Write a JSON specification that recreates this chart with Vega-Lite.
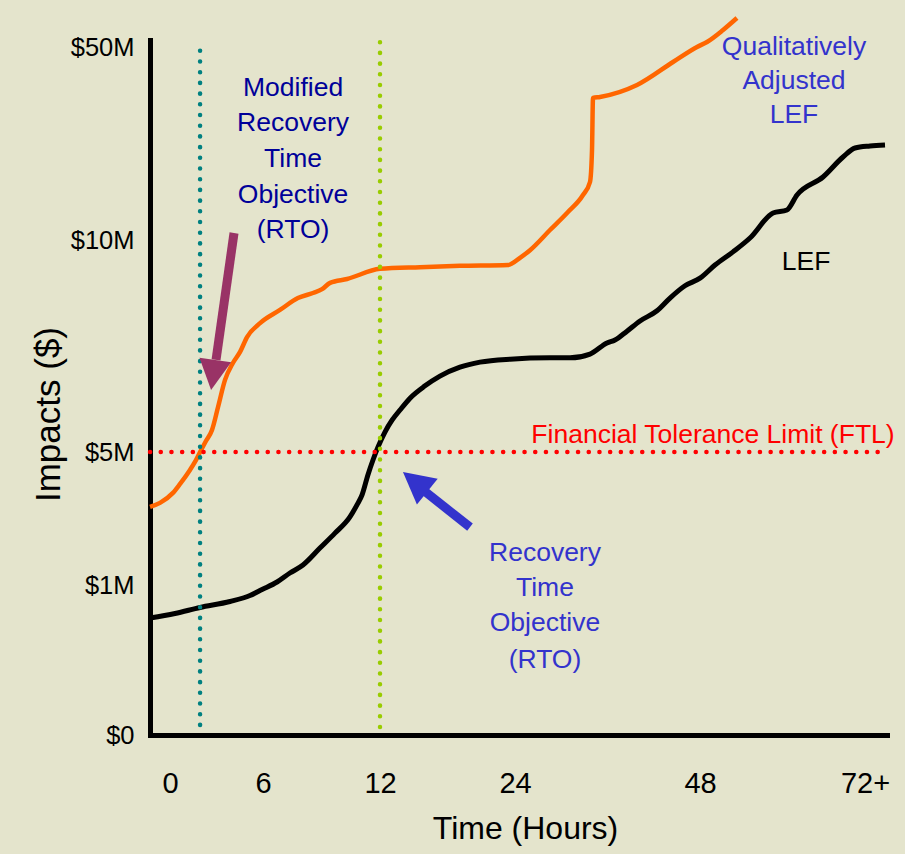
{
  "$schema": "https://vega.github.io/schema/vega-lite/v6.json",
  "width": 737,
  "height": 695,
  "autosize": {"type": "none"},
  "padding": {"left": 150, "top": 40, "right": 18, "bottom": 119},
  "background": "#E4E4CC",
  "config": {"view": {"stroke": null}, "font": "Liberation Sans"},
  "layer": [
    {
      "data": {"values": [
        {"hour": -1.3, "impact": 3.35}, {"hour": -0.65, "impact": 3.47}, {"hour": 0.19, "impact": 3.77},
        {"hour": 0.65, "impact": 4.04}, {"hour": 1.29, "impact": 4.46}, {"hour": 1.61, "impact": 4.70},
        {"hour": 1.94, "impact": 5.0}, {"hour": 2.32, "impact": 5.26}, {"hour": 2.71, "impact": 5.52},
        {"hour": 3.10, "impact": 6.06}, {"hour": 3.55, "impact": 6.70}, {"hour": 4.06, "impact": 7.10},
        {"hour": 4.52, "impact": 7.36}, {"hour": 4.97, "impact": 7.71}, {"hour": 5.81, "impact": 8.04},
        {"hour": 6.87, "impact": 8.35}, {"hour": 7.79, "impact": 8.63}, {"hour": 8.56, "impact": 8.75},
        {"hour": 9.03, "impact": 8.84}, {"hour": 9.44, "impact": 8.99}, {"hour": 10.31, "impact": 9.08},
        {"hour": 12, "impact": 9.32}, {"hour": 15.56, "impact": 9.36}, {"hour": 19.11, "impact": 9.39},
        {"hour": 23.38, "impact": 9.41}, {"hour": 24.65, "impact": 9.58}, {"hour": 25.95, "impact": 9.76},
        {"hour": 28.54, "impact": 12.07}, {"hour": 30.75, "impact": 15.6}, {"hour": 32.82, "impact": 19.33},
        {"hour": 33.73, "impact": 22.02}, {"hour": 33.99, "impact": 28.65}, {"hour": 34.12, "impact": 39.43},
        {"hour": 35.03, "impact": 39.64}, {"hour": 39.83, "impact": 42.12}, {"hour": 44.5, "impact": 46.89},
        {"hour": 47.61, "impact": 50}, {"hour": 49.02, "impact": 51.04}, {"hour": 51.35, "impact": 53.52},
        {"hour": 53.38, "impact": 56.01}
      ]},
      "mark": {"type": "line", "color": "#FF6600", "strokeWidth": 4.5, "interpolate": "monotone", "clip": false},
      "encoding": {
        "x": {
          "field": "hour", "type": "quantitative", "title": "Time (Hours)",
          "scale": {"domain": [-1.3, 0, 6, 12, 24, 48, 72, 75.2], "range": [0, 20, 113, 230, 365, 550, 715, 737], "nice": false, "zero": false},
          "axis": {
            "values": [0, 6, 12, 24, 48, 72],
            "labelExpr": "datum.value == 72 ? '72+' : datum.label",
            "grid": false, "ticks": false, "tickSize": 0,
            "labelPadding": 48, "labelBaseline": "middle", "labelFontSize": 29, "labelColor": "black",
            "labelFlush": false, "labelOverlap": false, "labelFont": "Liberation Sans",
            "domainColor": "black", "domainWidth": 5, "domainCap": "square",
            "titleFontSize": 32, "titleFontWeight": "normal", "titleColor": "black", "titleFont": "Liberation Sans",
            "titleX": 375, "titleY": 93, "titleBaseline": "middle", "titleAlign": "center"
          }
        },
        "y": {
          "field": "impact", "type": "quantitative", "title": "Impacts ($)",
          "scale": {"domain": [0, 1, 5, 10, 50, 51.45], "range": [695, 545, 412, 200, 7, 0], "nice": false, "zero": false},
          "axis": {
            "values": [0, 1, 5, 10, 50],
            "labelExpr": "datum.value == 0 ? '$0' : '$' + datum.value + 'M'",
            "grid": false, "ticks": false, "tickSize": 0,
            "labelPadding": 16, "labelFontSize": 25.5, "labelColor": "black", "labelFont": "Liberation Sans",
            "labelFlush": false, "labelOverlap": false,
            "domainColor": "black", "domainWidth": 5, "domainCap": "square",
            "titleFontSize": 35, "titleFontWeight": "normal", "titleColor": "black", "titleFont": "Liberation Sans",
            "titleX": -102, "titleY": 374, "titleAngle": 270, "titleAlign": "center", "titleBaseline": "middle"
          }
        }
      }
    },
    {
      "data": {"values": [
        {"hour": -1.3, "impact": 0.78}, {"hour": 0.32, "impact": 0.81}, {"hour": 1.94, "impact": 0.85},
        {"hour": 3.87, "impact": 0.89}, {"hour": 5.16, "impact": 0.93}, {"hour": 5.94, "impact": 0.97},
        {"hour": 6.72, "impact": 1.09}, {"hour": 7.38, "impact": 1.36}, {"hour": 8.05, "impact": 1.6},
        {"hour": 8.92, "impact": 2.11}, {"hour": 9.69, "impact": 2.56}, {"hour": 10.46, "impact": 3.05},
        {"hour": 10.82, "impact": 3.41}, {"hour": 11.08, "impact": 3.71}, {"hour": 11.38, "impact": 4.31},
        {"hour": 11.64, "impact": 4.76}, {"hour": 11.9, "impact": 5.12}, {"hour": 12.44, "impact": 5.47},
        {"hour": 13.07, "impact": 5.75}, {"hour": 13.78, "impact": 5.99}, {"hour": 14.67, "impact": 6.27},
        {"hour": 16, "impact": 6.56}, {"hour": 17.33, "impact": 6.79}, {"hour": 19.11, "impact": 7.0},
        {"hour": 20.89, "impact": 7.12}, {"hour": 23.56, "impact": 7.19}, {"hour": 28.54, "impact": 7.22},
        {"hour": 31.14, "impact": 7.22}, {"hour": 33.73, "impact": 7.31}, {"hour": 35.93, "impact": 7.57},
        {"hour": 36.97, "impact": 7.64}, {"hour": 38.53, "impact": 7.85}, {"hour": 40.22, "impact": 8.09},
        {"hour": 42.42, "impact": 8.33}, {"hour": 44.11, "impact": 8.63}, {"hour": 46.05, "impact": 8.92},
        {"hour": 48, "impact": 9.1}, {"hour": 50.18, "impact": 9.41}, {"hour": 52.8, "impact": 9.72},
        {"hour": 55.27, "impact": 10.41}, {"hour": 58.62, "impact": 15.6}, {"hour": 60.65, "impact": 16.22},
        {"hour": 62.11, "impact": 19.33}, {"hour": 65.89, "impact": 23.06}, {"hour": 68.8, "impact": 27.2},
        {"hour": 70.55, "impact": 29.07}, {"hour": 72.73, "impact": 29.48}, {"hour": 74.91, "impact": 29.69}
      ]},
      "mark": {"type": "line", "color": "black", "strokeWidth": 5, "interpolate": "monotone", "clip": false},
      "encoding": {
        "x": {"field": "hour", "type": "quantitative"},
        "y": {"field": "impact", "type": "quantitative"}
      }
    },
    {
      "data": {"values": [{"hour": 1.94, "impact": 0.067, "impact2": 51.04}]},
      "mark": {"type": "rule", "color": "#008080", "strokeWidth": 4.5, "strokeDash": [0.1, 10.6], "strokeCap": "round"},
      "encoding": {
        "x": {"field": "hour", "type": "quantitative"},
        "y": {"field": "impact", "type": "quantitative"},
        "y2": {"field": "impact2"}
      }
    },
    {
      "data": {"values": [{"hour": 12, "impact": 0.053, "impact2": 53.1}]},
      "mark": {"type": "rule", "color": "#99CC00", "strokeWidth": 4.5, "strokeDash": [0.1, 10.6], "strokeCap": "round"},
      "encoding": {
        "x": {"field": "hour", "type": "quantitative"},
        "y": {"field": "impact", "type": "quantitative"},
        "y2": {"field": "impact2"}
      }
    },
    {
      "data": {"values": [{"hour": -1.3, "hour2": 75.2, "impact": 5}]},
      "mark": {"type": "rule", "color": "#FF0000", "strokeWidth": 4.5, "strokeDash": [0.1, 10.6], "strokeCap": "round"},
      "encoding": {
        "x": {"field": "hour", "type": "quantitative"},
        "x2": {"field": "hour2"},
        "y": {"field": "impact", "type": "quantitative"}
      }
    },
    {
      "data": {"values": [{"hour": 4.13, "impact": 11.45, "hour2": 2.97, "impact2": 7.17}]},
      "mark": {"type": "rule", "color": "#993366", "strokeWidth": 9},
      "encoding": {
        "x": {"field": "hour", "type": "quantitative"},
        "y": {"field": "impact", "type": "quantitative"},
        "x2": {"field": "hour2"},
        "y2": {"field": "impact2"}
      }
    },
    {
      "data": {"values": [{"hour": 2.65, "impact": 6.46}]},
      "mark": {"type": "point", "shape": "M0,0 L-1,1.9 L1,1.9 Z", "size": 1024, "angle": 188, "filled": true, "opacity": 1, "color": "#993366", "strokeWidth": 0},
      "encoding": {
        "x": {"field": "hour", "type": "quantitative"},
        "y": {"field": "impact", "type": "quantitative"}
      }
    },
    {
      "data": {"values": [{"hour": 20, "impact": 2.74, "hour2": 16.0, "impact2": 3.81}]},
      "mark": {"type": "rule", "color": "#3333CC", "strokeWidth": 9},
      "encoding": {
        "x": {"field": "hour", "type": "quantitative"},
        "y": {"field": "impact", "type": "quantitative"},
        "x2": {"field": "hour2"},
        "y2": {"field": "impact2"}
      }
    },
    {
      "data": {"values": [{"hour": 14.04, "impact": 4.40}]},
      "mark": {"type": "point", "shape": "M0,0 L-1,1.9 L1,1.9 Z", "size": 1089, "angle": 309, "filled": true, "opacity": 1, "color": "#3333CC", "strokeWidth": 0},
      "encoding": {
        "x": {"field": "hour", "type": "quantitative"},
        "y": {"field": "impact", "type": "quantitative"}
      }
    },
    {
      "data": {"values": [
        {"note": "Modified RTO", "label": "Modified", "hour": 7.54, "impact": 41.5},
        {"note": "Modified RTO", "label": "Recovery", "hour": 7.54, "impact": 34.25},
        {"note": "Modified RTO", "label": "Time", "hour": 7.54, "impact": 26.79},
        {"note": "Modified RTO", "label": "Objective", "hour": 7.54, "impact": 19.33},
        {"note": "Modified RTO", "label": "(RTO)", "hour": 7.54, "impact": 12.07},
        {"note": "Adjusted LEF", "label": "Qualitatively", "hour": 61.67, "impact": 50},
        {"note": "Adjusted LEF", "label": "Adjusted", "hour": 61.67, "impact": 42.95},
        {"note": "Adjusted LEF", "label": "LEF", "hour": 61.67, "impact": 35.91},
        {"note": "LEF", "label": "LEF", "hour": 63.42, "impact": 9.48},
        {"note": "FTL", "label": "Financial Tolerance Limit (FTL)", "hour": 49.89, "impact": 5.4},
        {"note": "RTO", "label": "Recovery", "hour": 27.89, "impact": 1.96},
        {"note": "RTO", "label": "Time", "hour": 27.89, "impact": 0.98},
        {"note": "RTO", "label": "Objective", "hour": 27.89, "impact": 0.747},
        {"note": "RTO", "label": "(RTO)", "hour": 27.89, "impact": 0.5}
      ]},
      "mark": {"type": "text", "fontSize": 26.5, "font": "Liberation Sans", "align": "center", "baseline": "middle", "fontWeight": "normal"},
      "encoding": {
        "x": {"field": "hour", "type": "quantitative"},
        "y": {"field": "impact", "type": "quantitative"},
        "text": {"field": "label"},
        "color": {
          "field": "note", "type": "nominal", "legend": null,
          "scale": {"domain": ["Modified RTO", "Adjusted LEF", "LEF", "FTL", "RTO"], "range": ["#000099", "#3333CC", "#000000", "#FF0000", "#3333CC"]}
        }
      }
    }
  ]
}
